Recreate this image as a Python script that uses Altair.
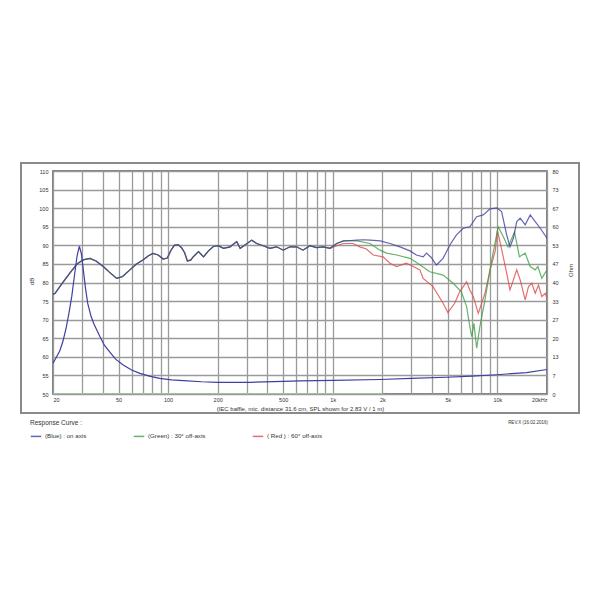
import altair as alt
import pandas as pd

# ---------------- data ----------------
# shared low-frequency SPL (the three curves coincide up to ~1 kHz)
low_freq = [20, 20.6, 22.5, 25.3, 28, 30.5, 33.5, 36.5, 40.4, 44, 48.7, 53, 58.6, 64, 70.7, 76, 81, 87,
            93.4, 98.9, 104, 109, 115, 121, 126, 131, 137, 142, 153, 164, 176, 188, 202, 217, 238, 261,
            274, 293, 322, 345, 378, 415, 456, 500, 550, 602, 660, 726, 798, 876, 962]
low_spl = [76.8, 77.1, 79.5, 82.5, 85.0, 86.1, 86.5, 85.8, 84.3, 82.8, 81.1, 81.6, 83.4, 84.9, 86.1, 87.2,
           87.8, 87.4, 86.3, 86.6, 88.6, 90.0, 90.2, 89.3, 88.0, 85.8, 86.0, 86.9, 88.3, 86.9, 88.5, 89.7,
           89.9, 89.2, 89.6, 91.0, 89.2, 90.1, 91.4, 90.5, 89.9, 89.2, 89.6, 88.7, 89.6, 89.6, 88.7, 89.9,
           89.4, 89.6, 89.2]

blue_freq = [1058, 1162, 1280, 1402, 1540, 1684, 1938, 2226, 2560, 2944, 3220, 3540, 3710, 3950, 4260,
             4680, 5140, 5640, 6200, 6800, 7480, 8200, 9020, 9900, 10600, 11380, 11920, 12500, 13100,
             13750, 14740, 15820, 16960, 18200, 20000]
blue_spl = [90.5, 91.2, 91.3, 91.4, 91.5, 91.4, 91.2, 90.5, 89.6, 88.5, 87.4, 86.9, 87.9, 86.8, 84.7,
            86.5, 90.1, 92.8, 94.6, 95.0, 97.7, 98.2, 99.8, 100.1, 99.1, 92.8, 89.6, 91.9, 96.4,
            97.3, 95.5, 98.2, 96.4, 94.6, 91.9]

green_freq = [1058, 1162, 1402, 1684, 1938, 2120, 2440, 2944, 3380, 3880, 4680, 5390, 6040, 6500, 6800,
              6980, 7200, 7480, 7820, 8400, 9240, 10100, 10800, 11600, 12700, 13600, 14740, 15800,
              16960, 17600, 18600, 20000]
green_spl = [90.5, 91.2, 91.2, 90.5, 88.7, 87.9, 87.4, 86.5, 84.8, 82.9, 82.0, 79.8, 77.5, 73.5, 68.1,
             65.4, 69.0, 62.3, 68.1, 75.3, 86.1, 95.0, 92.5, 89.6, 93.6, 86.9, 87.9, 84.3,
             83.4, 84.3, 81.1, 83.4]

red_freq = [1058, 1162, 1330, 1460, 1602, 1760, 2020, 2226, 2440, 2800, 3080, 3380, 3540, 4060, 4680,
            5000, 5500, 5900, 6500, 6800, 7140, 7650, 8400, 9020, 9700, 10000, 10600, 11380, 11920,
            12500, 13100, 13750, 14740, 15440, 16170, 16960, 17760, 18600, 19500, 20000]
red_spl = [89.9, 90.5, 90.5, 89.6, 89.0, 87.4, 86.9, 85.2, 84.3, 85.2, 84.3, 83.4, 81.1, 78.9, 74.4,
           71.9, 74.4, 77.5, 80.2, 78.0, 76.2, 71.7, 77.1, 83.4, 88.5, 94.0, 89.0, 82.5, 78.0,
           80.7, 83.4, 80.7, 75.3, 78.9, 79.8, 77.1, 79.3, 76.2, 77.1, 75.8]

# impedance (Ohm, right axis)
imp_freq = [20, 21, 22, 23, 24, 25, 26, 27, 28, 28.9, 29.7, 30.5, 31.5, 32.5, 34, 35.5, 38.6, 41, 44.3,
            48, 53.4, 60, 67.5, 78, 89, 105, 124, 160, 200, 314, 500, 632, 1000, 1938, 3000, 4900,
            7000, 9900, 15000, 20000]
imp_ohm = [11.0, 13.3, 15.5, 19.0, 23.5, 29.0, 35.0, 42.5, 49.5, 53.0, 50.5, 45.0, 38.0, 32.5, 28.0,
           25.0, 20.5, 17.5, 15.0, 12.5, 10.4, 8.6, 7.4, 6.3, 5.6, 5.1, 4.8, 4.4, 4.2, 4.2, 4.5, 4.7,
           4.9, 5.2, 5.6, 6.0, 6.4, 6.9, 7.7, 8.8]

# light green trace lying on the floor of the plot
floor_freq = [20, 2000]
floor_spl = [50, 50]

series_names = ["(Blue) : on axis", "(Green) : 30\u00b0 off-axis", "( Red ) : 60\u00b0 off-axis"]
series_colors = ["#3f3f9e", "#3fa045", "#e04a4a"]

x_grid = [20, 30, 40, 50, 60, 70, 80, 90, 100, 200, 300, 400, 500, 600, 700, 800, 900,
          1000, 2000, 3000, 4000, 5000, 6000, 7000, 8000, 9000, 10000, 20000]
x_label_vals = [20, 50, 100, 200, 500, 1000, 2000, 5000, 10000, 20000]
x_label_text = ["20", "50", "100", "200", "500", "1k", "2k", "5k", "10k", "20kHz"]
db_ticks = [50, 55, 60, 65, 70, 75, 80, 85, 90, 95, 100, 105, 110]
ohm_ticks = [0, 80 / 12, 160 / 12, 20, 320 / 12, 400 / 12, 40, 560 / 12, 640 / 12, 60, 800 / 12, 880 / 12, 80]

# ---------------- tables ----------------
rows = []
tails = [(series_names[2], red_freq, red_spl),
         (series_names[1], green_freq, green_spl),
         (series_names[0], blue_freq, blue_spl)]   # blue drawn last (on top)
for name, tf, ts in tails:
    for f, s in zip(low_freq + tf, low_spl + ts):
        rows.append({"freq": f, "spl": s, "series": name})
spl_df = pd.DataFrame(rows)
imp_df = pd.DataFrame({"freq": imp_freq, "ohm": imp_ohm})
floor_df = pd.DataFrame({"freq": floor_freq, "spl": floor_spl})

label_expr = " : ".join(
    f"datum.value == {v} ? '{t}'" for v, t in zip(x_label_vals, x_label_text)) + " : ''"

FONT = "Liberation Sans"
xscale = alt.Scale(type="log", domain=[20, 20000], nice=False)
yscale = alt.Scale(domain=[50, 110], nice=False, zero=False)

x_axis = alt.Axis(values=x_grid, labelExpr=label_expr, grid=True, ticks=False, domain=False,
                  labelFontSize=5.5, labelColor="#333", labelPadding=3, labelFlush=True,
                  labelOverlap=False, gridColor="#9a9a9a", gridWidth=1.3,
                  title="(IEC baffle, mic. distance 31.6 cm, SPL shown for 2.83 V / 1 m)",
                  titleFontSize=6, titleFontWeight="normal", titleColor="#333",
                  titleX=247, titleY=14, titleBaseline="middle")
y_axis = alt.Axis(values=db_ticks, grid=True, ticks=False, domain=False, labelFontSize=5.5,
                  labelColor="#333", labelPadding=5, labelOverlap=False,
                  gridColor="#9a9a9a", gridWidth=1.3,
                  title="dB", titleFontSize=6, titleFontWeight="normal", titleColor="#333",
                  titleX=-22, titleY=110, titleAngle=-90, titleBaseline="middle")

spl_lines = alt.Chart(spl_df).mark_line(strokeWidth=1.2, clip=True, opacity=0.8).encode(
    x=alt.X("freq:Q", scale=xscale, axis=x_axis),
    y=alt.Y("spl:Q", scale=yscale, axis=y_axis),
    color=alt.Color("series:N", sort=None, scale=alt.Scale(domain=series_names, range=series_colors),
                    legend=alt.Legend(title=None, orient="none", legendX=-23, legendY=259,
                                      direction="horizontal", labelFontSize=6.2, labelColor="#333",
                                      labelFont=FONT, symbolType="stroke", symbolStrokeWidth=1.5,
                                      symbolSize=110, columnPadding=43, labelOffset=3)),
)

floor = alt.Chart(floor_df).mark_line(color="#a6d9a6", strokeWidth=1.5, clip=True).encode(
    x=alt.X("freq:Q", scale=xscale, axis=x_axis),
    y=alt.Y("spl:Q", scale=yscale, axis=y_axis),
)

imp = alt.Chart(imp_df).mark_line(color="#3f3f9e", strokeWidth=1.2, clip=True).encode(
    x=alt.X("freq:Q", scale=xscale, axis=x_axis),
    y=alt.Y("ohm:Q", scale=alt.Scale(domain=[0, 80], nice=False),
            axis=alt.Axis(orient="right", values=ohm_ticks, labelExpr="round(datum.value)", grid=False,
                          ticks=False, domain=False, labelFontSize=5.5, labelColor="#333", labelPadding=5,
                          labelOverlap=False,
                          title="Ohm", titleFontSize=6, titleFontWeight="normal", titleColor="#333",
                          titleX=23, titleY=99, titleAngle=-90, titleBaseline="middle")),
)

frame = alt.Chart(pd.DataFrame({"k": [0]})).mark_rect(fill=None, stroke="#8a8a8a", strokeWidth=2).encode(
    x=alt.value(-32), x2=alt.value(526), y=alt.value(-8), y2=alt.value(242))

caption = alt.Chart(pd.DataFrame({"t": ["Response Curve :"]})).mark_text(
    align="left", baseline="middle", fontSize=6.5, color="#333", font=FONT).encode(
    x=alt.value(-23), y=alt.value(252), text="t:N")
rev = alt.Chart(pd.DataFrame({"t": ["REV.X (16.02.2016)"]})).mark_text(
    align="right", baseline="middle", fontSize=4.5, color="#333", font=FONT).encode(
    x=alt.value(495), y=alt.value(252), text="t:N")

spl_layer = alt.layer(spl_lines, floor)
chart = alt.layer(spl_layer, imp, frame, caption, rev).resolve_scale(y="independent").properties(
    width=494, height=223,
    padding={"left": 45, "top": 163, "right": 40, "bottom": 170},
    autosize=alt.AutoSizeParams(type="none"),
    background="white",
).configure_view(stroke="#555", strokeWidth=1.5).configure_axis(labelFont=FONT, titleFont=FONT)

chart.save("out.html", embed_options={"renderer": "svg", "actions": False})
